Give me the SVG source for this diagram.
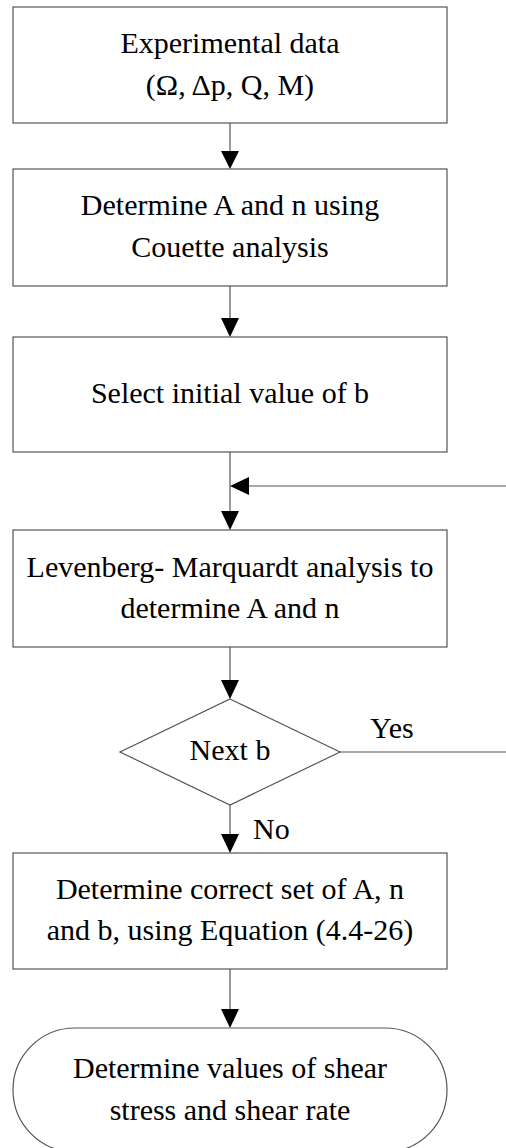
<svg xmlns="http://www.w3.org/2000/svg" width="506" height="1148" viewBox="0 0 506 1148">
<style>
.box{fill:#fff;stroke:#555;stroke-width:1.2}
.ln{stroke:#555;stroke-width:1.2;fill:none}
.ah{fill:#000}
text{font-family:'Liberation Serif','Times New Roman',Tinos,'DejaVu Serif',serif;font-size:30px;fill:#000}
.c{text-anchor:middle}
</style>
<rect width="506" height="1148" fill="#fff"/>
<g id="connectors">
<line class="ln" x1="230" y1="123" x2="230" y2="152"/>
<polygon class="ah" points="221,151 239,151 230,169"/>
<line class="ln" x1="230" y1="286" x2="230" y2="320"/>
<polygon class="ah" points="221,318 239,318 230,337"/>
<line class="ln" x1="230" y1="452" x2="230" y2="512"/>
<polygon class="ah" points="221,511 239,511 230,530"/>
<line class="ln" x1="506" y1="486" x2="248" y2="486"/>
<polygon class="ah" points="249,477 249,495 230,486"/>
<line class="ln" x1="230" y1="647" x2="230" y2="682"/>
<polygon class="ah" points="221,680 239,680 230,699"/>
<line class="ln" x1="340" y1="752" x2="506" y2="752"/>
<line class="ln" x1="230" y1="805" x2="230" y2="836"/>
<polygon class="ah" points="221,834 239,834 230,853"/>
<line class="ln" x1="230" y1="969" x2="230" y2="1010"/>
<polygon class="ah" points="221,1009 239,1009 230,1028"/>
<text x="370" y="738" font-family="Liberation Serif, serif">Yes</text>
<text x="253" y="839" font-family="Liberation Serif, serif">No</text>
</g>
<g id="n1">
<rect class="box" x="13" y="7" width="434" height="116"/>
<text class="c" x="230" y="53" font-family="Liberation Serif, serif">Experimental data</text>
<text class="c" x="230" y="95" font-family="Liberation Serif, serif">(Ω, Δp, Q, M)</text>
</g>
<g id="n2">
<rect class="box" x="13" y="169" width="434" height="117"/>
<text class="c" x="230" y="215" font-family="Liberation Serif, serif">Determine A and n using</text>
<text class="c" x="230" y="257" font-family="Liberation Serif, serif">Couette analysis</text>
</g>
<g id="n3">
<rect class="box" x="13" y="337" width="434" height="115"/>
<text class="c" x="230" y="403" font-family="Liberation Serif, serif">Select initial value of b</text>
</g>
<g id="n4">
<rect class="box" x="13" y="530" width="434" height="117"/>
<text class="c" x="230" y="577" font-family="Liberation Serif, serif">Levenberg- Marquardt analysis to</text>
<text class="c" x="230" y="618" font-family="Liberation Serif, serif">determine A and n</text>
</g>
<g id="n5">
<polygon class="box" points="230,699 340,752 230,805 120,752"/>
<text class="c" x="230" y="760" font-family="Liberation Serif, serif">Next b</text>
</g>
<g id="n6">
<rect class="box" x="13" y="853" width="434" height="116"/>
<text class="c" x="230" y="899" font-family="Liberation Serif, serif">Determine correct set of A, n</text>
<text class="c" x="230" y="940" font-family="Liberation Serif, serif">and b, using Equation (4.4-26)</text>
</g>
<g id="n7">
<rect class="box" x="13" y="1028" width="434" height="124" rx="62" ry="62"/>
<text class="c" x="230" y="1078" font-family="Liberation Serif, serif">Determine values of shear</text>
<text class="c" x="230" y="1120" font-family="Liberation Serif, serif">stress and shear rate</text>
</g>
</svg>
